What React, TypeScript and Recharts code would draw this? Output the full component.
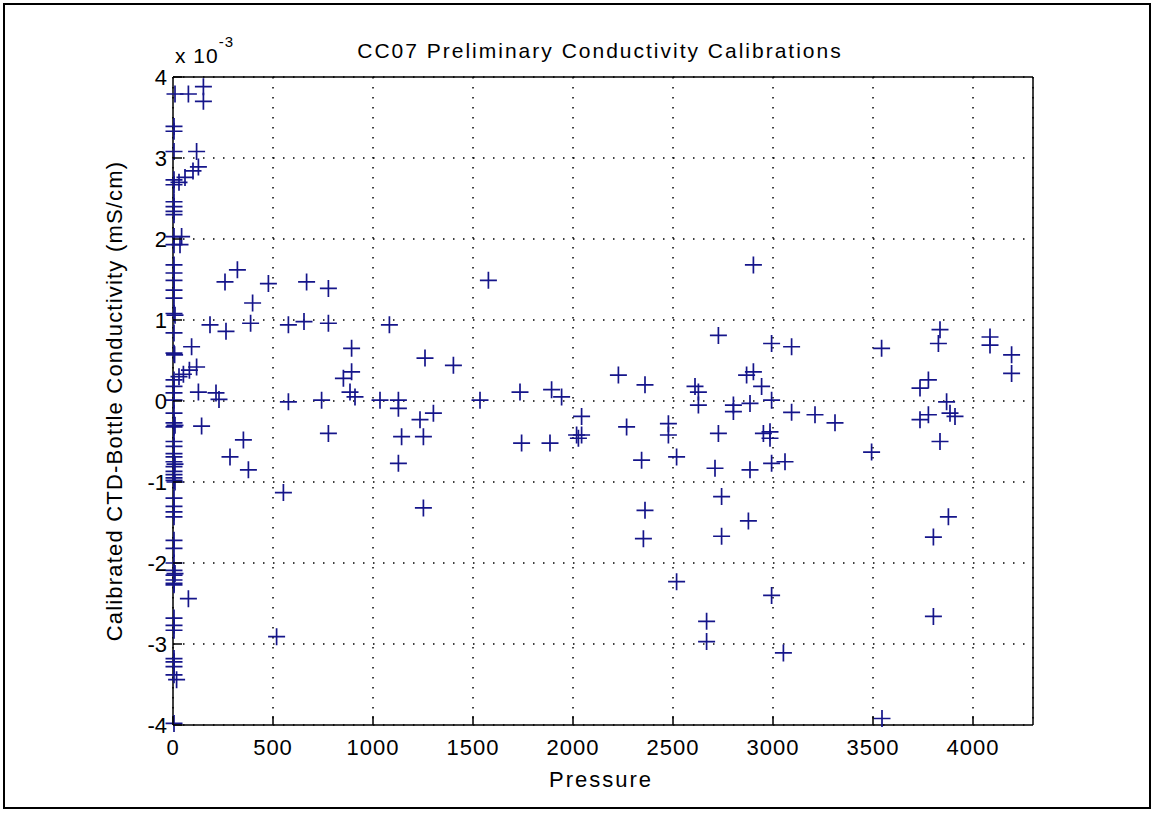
import React from "react";
import {
  CartesianGrid, Scatter, ScatterChart, XAxis, YAxis,
} from "recharts";

// Pressure (dbar) vs calibrated CTD - bottle conductivity difference (x 10^-3 mS/cm)
const surfaceX = [10, 77, 152, 152, 5, 5, 5, 118, 127, 100, 60, 30, 5, 5, 5, 5, 5, 5, 5, 43, 5, 35, 5, 5, 5, 5, 5, 5, 10, 5, 5, 8, 93, 118, 82, 52, 30, 5, 5, 5, 5, 127, 215, 230, 5, 5, 5, 10, 143, 5, 5, 5, 5, 5, 10, 5, 5, 5, 5, 5, 10, 5, 5, 5, 5, 5, 5, 5, 5, 5, 10, 5, 5, 5, 77, 5, 5, 5, 5, 5, 5, 18, 5, 5];
const surfaceY = [3.79, 3.79, 3.88, 3.7, 3.39, 3.33, 3.08, 3.08, 2.89, 2.84, 2.76, 2.7, 2.73, 2.67, 2.46, 2.4, 2.34, 2.3, 2.03, 2.03, 1.93, 1.93, 1.68, 1.58, 1.49, 1.37, 1.27, 1.08, 1.06, 0.84, 0.59, 0.57, 0.67, 0.42, 0.38, 0.33, 0.3, 0.26, 0.18, 0.1, 0.01, 0.11, 0.1, 0.02, -0.15, -0.27, -0.32, -0.3, -0.31, -0.5, -0.56, -0.65, -0.69, -0.75, -0.78, -0.81, -0.87, -0.91, -0.95, -0.98, -1.0, -1.2, -1.3, -1.37, -1.43, -1.72, -1.82, -2.0, -2.09, -2.15, -2.13, -2.21, -2.25, -2.27, -2.44, -2.68, -2.77, -2.83, -3.18, -3.22, -3.28, -3.44, -3.38, -3.98];

const shallowX = [260, 322, 477, 398, 668, 777, 185, 265, 388, 577, 655, 777, 1082, 893, 893, 852, 885, 910, 1260, 1402, 577, 743, 1035, 1127, 1127, 1235, 777, 352, 285, 377, 1143, 1252, 1127, 552, 1252, 518, 1302];
const shallowY = [1.47, 1.62, 1.45, 1.21, 1.47, 1.39, 0.94, 0.86, 0.96, 0.94, 0.98, 0.96, 0.94, 0.65, 0.36, 0.28, 0.11, 0.05, 0.53, 0.44, -0.01, 0.01, 0.01, 0.01, -0.09, -0.23, -0.4, -0.48, -0.69, -0.85, -0.44, -0.44, -0.77, -1.13, -1.32, -2.91, -0.15];

const midX = [1577, 1535, 1735, 1893, 1943, 2227, 2360, 2610, 2627, 2627, 2727, 2043, 2018, 2043, 2027, 1743, 1885, 2268, 2477, 2477, 2518, 2343, 2710, 2727, 2360, 2352, 2743, 2743, 2518, 2668, 2668];
const midY = [1.49, 0.01, 0.11, 0.14, 0.05, 0.32, 0.2, 0.18, 0.11, -0.05, 0.81, -0.19, -0.42, -0.42, -0.46, -0.52, -0.52, -0.32, -0.28, -0.42, -0.69, -0.73, -0.83, -0.4, -1.35, -1.7, -1.18, -1.67, -2.23, -2.72, -2.97];

const deepX = [2902, 2993, 3093, 3543, 3835, 3827, 4085, 4085, 4193, 4193, 2868, 2902, 2943, 2993, 2885, 2802, 2802, 3093, 3210, 3310, 2952, 2985, 2985, 2993, 3060, 2885, 3493, 3777, 3735, 3868, 3735, 3777, 3885, 3910, 3835, 2877, 3877, 3802, 2993, 3052, 3802, 3545];
const deepY = [1.68, 0.71, 0.67, 0.65, 0.88, 0.71, 0.79, 0.69, 0.57, 0.34, 0.32, 0.36, 0.18, 0.01, -0.03, -0.05, -0.13, -0.14, -0.17, -0.27, -0.4, -0.38, -0.46, -0.77, -0.75, -0.85, -0.63, 0.26, 0.16, -0.01, -0.23, -0.17, -0.15, -0.19, -0.5, -1.48, -1.43, -1.68, -2.4, -3.11, -2.66, -3.92];

const xTicks = [0, 500, 1000, 1500, 2000, 2500, 3000, 3500, 4000];
const yTicks = [-4, -3, -2, -1, 0, 1, 2, 3, 4];

const allX = [...surfaceX, ...shallowX, ...midX, ...deepX];
const allY = [...surfaceY, ...shallowY, ...midY, ...deepY];
const data = allX.map((x, i) => ({ x, y: allY[i] }));

const FONT = "'Liberation Sans', Arial, sans-serif";
const MARK = "#15158a";

function BottomTick({ x, y, payload }: any) {
  return (
    <g>
      <line x1={x} x2={x} y1={y} y2={y - 9} stroke="#000" strokeWidth={1.5} />
      <text x={x} y={y + 30} textAnchor="middle" fontSize={22} letterSpacing={1} fontFamily={FONT} fill="#000">
        {payload.value}
      </text>
    </g>
  );
}

function TopTick({ x, y }: any) {
  return <line x1={x} x2={x} y1={y} y2={y + 9} stroke="#000" strokeWidth={1.5} />;
}

function LeftTick({ x, y, payload }: any) {
  return (
    <g>
      <line x1={x} x2={x + 9} y1={y} y2={y} stroke="#000" strokeWidth={1.5} />
      <text x={x - 6} y={y + 8} textAnchor="end" fontSize={22} fontFamily={FONT} fill="#000">
        {payload.value}
      </text>
    </g>
  );
}

function RightTick({ x, y }: any) {
  return <line x1={x} x2={x - 9} y1={y} y2={y} stroke="#000" strokeWidth={1.5} />;
}

function Plus({ cx, cy }: any) {
  return (
    <path
      d={`M${cx - 8.5},${cy}H${cx + 8.5}M${cx},${cy - 8.5}V${cy + 8.5}`}
      stroke={MARK}
      strokeWidth={1.7}
      fill="none"
    />
  );
}

export default function App() {
  return (
    <div style={{ position: "absolute", left: 0, top: 0, width: 1156, height: 813, background: "#fff" }}>
      <ScatterChart
        width={1156}
        height={813}
        margin={{ top: 67, right: 113, bottom: 28, left: 113 }}
      >
        <CartesianGrid
          xAxisId="b"
          yAxisId="l"
          stroke="#000"
          strokeWidth={1.5}
          strokeDasharray="1.5 8.5"
        />
        <XAxis
          xAxisId="b"
          type="number"
          dataKey="x"
          domain={[0, 4300]}
          ticks={xTicks}
          orientation="bottom"
          height={60}
          tickSize={0}
          tickMargin={0}
          tick={(p: any) => <BottomTick {...p} />}
          axisLine={{ stroke: "#000", strokeWidth: 1.5 }}
          interval={0}
        />
        <XAxis
          xAxisId="t"
          type="number"
          dataKey="x"
          domain={[0, 4300]}
          ticks={xTicks}
          orientation="top"
          height={10}
          tickSize={0}
          tickMargin={0}
          tick={(p: any) => <TopTick {...p} />}
          axisLine={{ stroke: "#000", strokeWidth: 1.5 }}
          interval={0}
        />
        <YAxis
          yAxisId="l"
          type="number"
          dataKey="y"
          domain={[-4, 4]}
          ticks={yTicks}
          width={60}
          tickSize={0}
          tickMargin={0}
          tick={(p: any) => <LeftTick {...p} />}
          axisLine={{ stroke: "#000", strokeWidth: 1.5 }}
          interval={0}
        />
        <YAxis
          yAxisId="r"
          type="number"
          dataKey="y"
          domain={[-4, 4]}
          ticks={yTicks}
          orientation="right"
          width={10}
          tickSize={0}
          tickMargin={0}
          tick={(p: any) => <RightTick {...p} />}
          axisLine={{ stroke: "#000", strokeWidth: 1.5 }}
          interval={0}
        />
        <Scatter
          data={data}
          xAxisId="b"
          yAxisId="l"
          shape={(p: any) => <Plus {...p} />}
          isAnimationActive={false}
        />
      </ScatterChart>
      <svg
        width={1156}
        height={813}
        style={{ position: "absolute", left: 0, top: 0, pointerEvents: "none" }}
      >
        <rect x={4} y={4} width={1146} height={804} fill="none" stroke="#000" strokeWidth={2} />
        <text x={600} y={58} textAnchor="middle" fontSize={21} letterSpacing={2} fontFamily={FONT} fill="#000">
          CC07 Preliminary Conductivity Calibrations
        </text>
        <text x={175} y={63} fontSize={21} letterSpacing={1} fontFamily={FONT} fill="#000">
          x 10
          <tspan dy={-16} fontSize={15}>-3</tspan>
        </text>
        <text
          x={0}
          y={0}
          transform="translate(122,401) rotate(-90)"
          textAnchor="middle"
          fontSize={22}
          letterSpacing={1.2}
          fontFamily={FONT}
          fill="#000"
        >
          Calibrated CTD-Bottle Conductivity (mS/cm)
        </text>
        <text x={601} y={787} textAnchor="middle" fontSize={22} letterSpacing={2} fontFamily={FONT} fill="#000">
          Pressure
        </text>
      </svg>
    </div>
  );
}
